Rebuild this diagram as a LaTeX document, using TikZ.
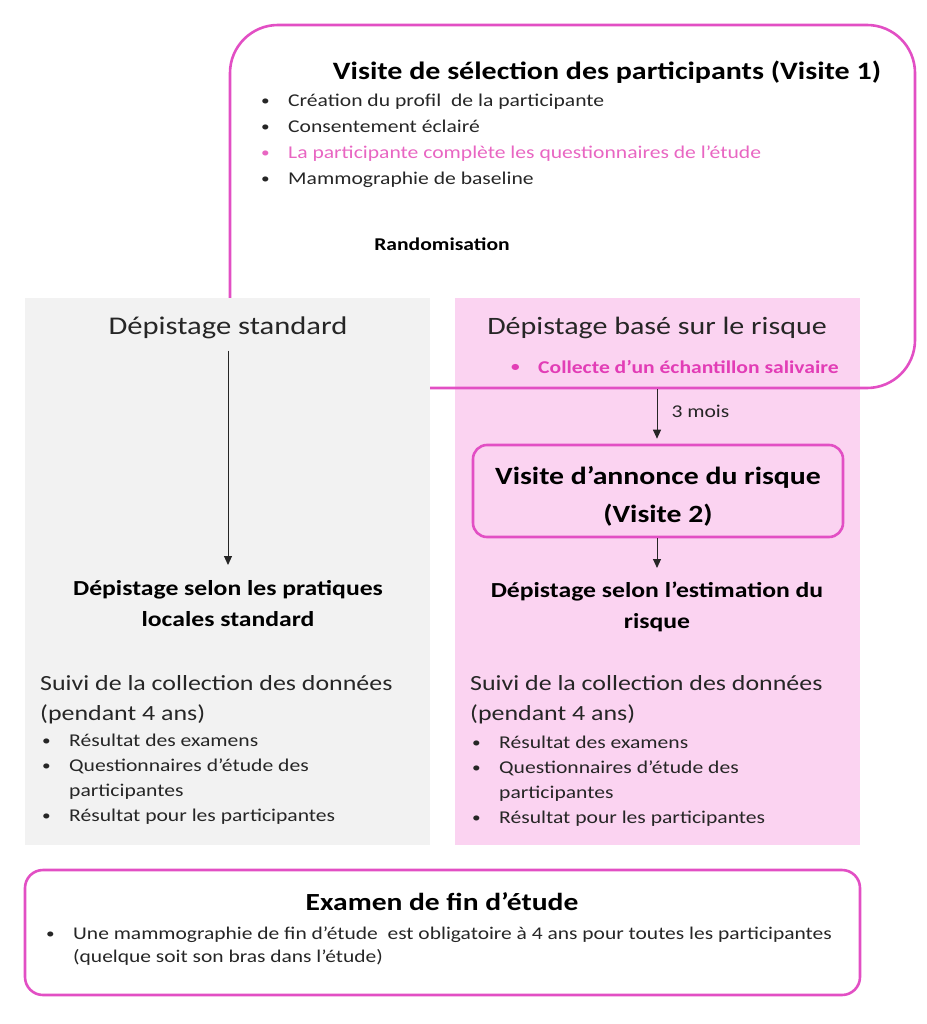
\documentclass[tikz,border=0pt]{standalone}
\usepackage{fontspec}
\setmainfont{Carlito}[FakeStretch=1.2]
\usepackage{xcolor}
\definecolor{selmag}{HTML}{E24FC4}
\definecolor{selpink}{HTML}{FBD3F1}
\definecolor{selgray}{HTML}{F2F2F2}
\definecolor{selsoft}{HTML}{E866C2}
\definecolor{selhot}{HTML}{E23DB6}
\definecolor{seltext}{HTML}{262626}
\usepackage{tikz}
\usetikzlibrary{arrows.meta,positioning,calc}
\tikzset{
  selframe/.style={draw=selmag,line width=2.6pt,rounded corners=48pt},
  selarm/.style={draw=none,inner sep=0pt},
  seltxt/.style={inner sep=0pt,text=seltext},
  sellist/.style={seltxt,align=left,anchor=north west},
  selflow/.style={-{Triangle[length=9pt,width=8pt]},line width=1pt,draw=seltext},
}
\newcommand{\puce}{\makebox[27pt][l]{\raisebox{0.06em}{\scalebox{0.8}{\textbullet}}}}
\newcommand{\pucevide}{\hspace*{27pt}}

\begin{document}
\begin{tikzpicture}[x=1pt,y=-1pt]
\useasboundingbox (0,0) rectangle (926,1024);
% the two arms, with the frame of visit 1 in between
\node[selarm,fill=selpink,minimum width=405pt,minimum height=547pt] (riskarm) at (657.5,571.5) {};
\node[selframe,minimum width=685pt,minimum height=363pt] (v1box) at (572.5,206.5) {};
\node[selarm,fill=selgray,minimum width=405pt,minimum height=547pt] (stdarm) at (227.5,571.5) {};

% visit 1
\node[seltxt,anchor=base,font=\fontsize{25}{30}\selectfont\bfseries,text=black] (v1title) at (607,80) {Visite de sélection des participants (Visite 1)};
\node[sellist,font=\fontsize{18}{26}\selectfont] (v1list) at (261,93.5) {\puce Création du profil\ \ de la participante\\
\puce Consentement éclairé\\
{\color{selsoft}\puce La participante complète les questionnaires de l’étude}\\
\puce Mammographie de baseline};
\node[seltxt,anchor=base,font=\fontsize{18}{22}\selectfont\bfseries,text=black] (rando) at (442,250) {Randomisation};

% standard arm
\node[seltxt,anchor=base,font=\fontsize{25.5}{30}\selectfont] (std) at (228,334) {Dépistage standard};
\node[seltxt,anchor=north,align=center,font=\fontsize{21.4}{31}\selectfont\bfseries,text=black] (stdres) at (228,580) {Dépistage selon les pratiques\\locales standard};
\draw[selflow,shorten <=12pt,shorten >=15pt] (std) -- (stdres);
\node[sellist,font=\fontsize{21.6}{30}\selectfont] (stdsuivi) at (40,675.5) {Suivi de la collection des données\\(pendant 4 ans)};
\node[sellist,font=\fontsize{18}{25}\selectfont] (stdlist) at (42,733.5) {\puce Résultat des examens\\
\puce Questionnaires d’étude des\\
\pucevide participantes\\
\puce Résultat pour les participantes};

% risk-based arm
\node[seltxt,anchor=base,font=\fontsize{25}{30}\selectfont] (risk) at (657,334) {Dépistage basé sur le risque};
\node[seltxt,anchor=base west,font=\fontsize{18}{22}\selectfont\bfseries,text=selhot] (salive) at (511,373) {\puce Collecte d’un échantillon salivaire};
\node[selframe,rounded corners=14pt,fill=selpink,minimum width=370pt,minimum height=92pt,align=center,font=\fontsize{24.8}{38}\selectfont\bfseries,text=black,inner sep=0pt] (v2) at (658,491) {\rule{0pt}{29pt}Visite d’annonce du risque\\(Visite 2)};
\draw[selflow,shorten >=5pt] (v1box.south -| risk) -- node[anchor=west,xshift=14pt,yshift=5pt,seltxt,font=\fontsize{18}{22}\selectfont] (mois) {3 mois} (v2.north -| risk);
\node[seltxt,anchor=north,align=center,font=\fontsize{21.4}{31}\selectfont\bfseries,text=black] (riskres) at (657,582) {Dépistage selon l’estimation du\\risque};
\draw[selflow,shorten >=14pt] (v2.south -| riskres) -- (riskres.north);
\node[sellist,font=\fontsize{21.6}{30}\selectfont] (risksuivi) at (470,675.5) {Suivi de la collection des données\\(pendant 4 ans)};
\node[sellist,font=\fontsize{18}{25}\selectfont] (risklist) at (472,735.5) {\puce Résultat des examens\\
\puce Questionnaires d'étude des\\
\pucevide participantes\\
\puce Résultat pour les participantes};

% end of study
\node[selframe,rounded corners=18pt,minimum width=835pt,minimum height=125pt] (fin) at (442.5,932.5) {};
\node[seltxt,anchor=base,font=\fontsize{24.6}{30}\selectfont\bfseries,text=black] (fintitle) at (442,910) {Examen de fin d’étude};
\node[sellist,font=\fontsize{17.9}{23}\selectfont] (finlist) at (46,926.5) {\puce Une mammographie de fin d’étude\ \ est obligatoire à 4 ans pour toutes les participantes\\
\pucevide (quelque soit son bras dans l’étude)};
\end{tikzpicture}
\end{document}
